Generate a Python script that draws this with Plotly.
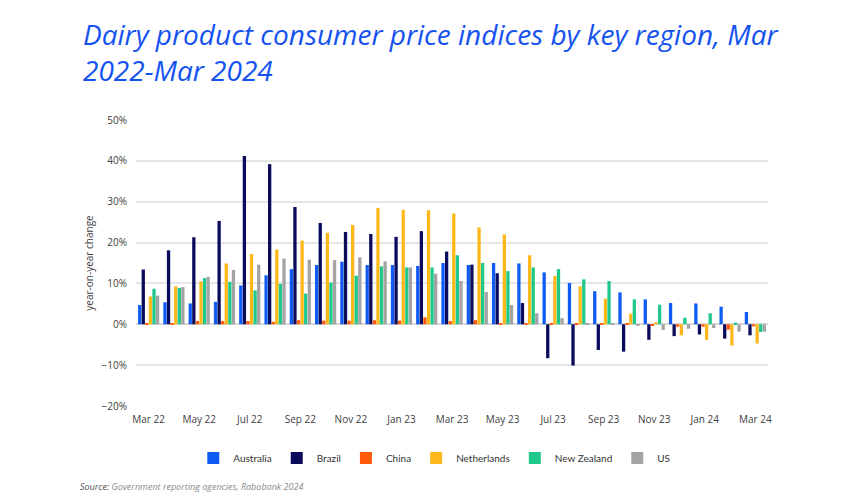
import plotly.graph_objects as go

months = ["Mar 22", "Apr 22", "May 22", "Jun 22", "Jul 22", "Aug 22", "Sep 22", "Oct 22",
          "Nov 22", "Dec 22", "Jan 23", "Feb 23", "Mar 23", "Apr 23", "May 23", "Jun 23",
          "Jul 23", "Aug 23", "Sep 23", "Oct 23", "Nov 23", "Dec 23", "Jan 24", "Feb 24", "Mar 24"]
tick_labels = months[::2]

australia = [4.7, 5.4, 5.1, 5.5, 9.5, 12.0, 13.5, 14.5, 15.3, 14.5, 14.5, 14.3, 15.0, 14.5, 15.0,
             14.9, 12.7, 10.1, 8.1, 7.8, 6.1, 5.2, 5.1, 4.3, 3.0]
brazil = [13.4, 18.1, 21.3, 25.3, 41.2, 39.2, 28.7, 24.8, 22.6, 22.1, 21.4, 22.8, 17.8, 14.6, 12.5,
          5.2, -8.3, -10.1, -6.3, -6.7, -3.8, -2.9, -2.5, -3.5, -2.7]
china = [0.3, 0.3, 0.8, 0.8, 0.8, 0.6, 1.0, 0.9, 0.9, 1.0, 0.9, 1.7, 0.8, 1.0, 0.3,
         0.2, 0.3, 0.3, 0.1, 0.1, -0.2, -0.6, -0.6, -1.3, -0.5]
netherlands = [6.8, 9.3, 10.5, 14.9, 17.2, 18.3, 20.5, 22.4, 24.3, 28.5, 28.0, 27.9, 27.1, 23.7, 22.0,
               16.9, 11.8, 9.3, 6.3, 2.6, 0.5, -2.7, -3.8, -5.2, -4.7]
new_zealand = [8.7, 8.9, 11.3, 10.4, 8.3, 9.9, 7.5, 10.2, 11.9, 14.2, 13.9, 13.9, 16.9, 15.0, 13.0,
               13.9, 13.5, 11.0, 10.6, 6.1, 4.8, 1.6, 2.7, 0.4, -1.9]
us = [7.0, 9.1, 11.6, 13.3, 14.6, 16.1, 15.8, 15.7, 16.4, 15.4, 13.9, 12.4, 10.6, 7.9, 4.7,
      2.7, 1.5, 0.3, 0.1, -0.2, -1.4, -1.1, -0.9, -1.8, -1.8]

title_text = "Dairy product consumer price indices by key region, Mar<br>2022-Mar 2024"

series = [
    ("Australia", australia, "#0f5cf5"),
    ("Brazil", brazil, "#0b0b5c"),
    ("China", china, "#ff5a0a"),
    ("Netherlands", netherlands, "#ffb81c"),
    ("New Zealand", new_zealand, "#1ec98a"),
    ("US", us, "#a3a3a3"),
]

fig = go.Figure()
for name, vals, color in series:
    fig.add_trace(go.Bar(x=months, y=vals, name=name, marker_color=color,
                         marker_line_width=0))

fig.update_layout(
    width=848, height=488,
    paper_bgcolor="white", plot_bgcolor="white",
    font=dict(family="Open Sans, Noto Sans, sans-serif", size=10, color="#404040"),
    margin=dict(l=128, r=88, t=112, b=90),
    barmode="group", bargap=0.15, bargroupgap=0.08,
    legend=dict(orientation="h", x=0.472, xanchor="center", y=-0.182, yanchor="middle",
                font=dict(family="Lato, Open Sans, sans-serif", size=10, color="#333333"),
                itemwidth=30, traceorder="normal"),
    showlegend=True,
)
fig.update_xaxes(type="category", tickmode="array", tickvals=tick_labels, ticktext=tick_labels,
                 showgrid=False, showline=False, ticks="", ticklabelstandoff=6,
                 tickfont=dict(size=10, color="#404040"))
fig.update_yaxes(range=[-20, 50], dtick=10, ticksuffix="%", showgrid=True,
                 gridcolor="#e6e6e6", gridwidth=1.5, zeroline=True, zerolinecolor="#d9d9d9",
                 zerolinewidth=1.5, showline=False, ticks="", ticklabelstandoff=8,
                 title=dict(text="year-on-year change", font=dict(size=10, color="#404040"),
                            standoff=6),
                 tickfont=dict(size=10, color="#404040"))

fig.add_annotation(
    xref="paper", yref="paper", x=-0.087, y=1.237, xanchor="left", yanchor="middle",
    text=title_text, showarrow=False, align="left",
    font=dict(family="Open Sans, sans-serif", size=28, color="#1452f0", style="italic"),
)

fig.add_annotation(
    xref="paper", yref="paper", x=-0.0918, y=-0.283, xanchor="left", yanchor="middle",
    text="<i>Source:</i> <i><span style='color:#8c8c8c'>Government reporting agencies, Rabobank 2024</span></i>",
    showarrow=False, font=dict(size=9, color="#505050"),
)

fig.write_html("out.html")
